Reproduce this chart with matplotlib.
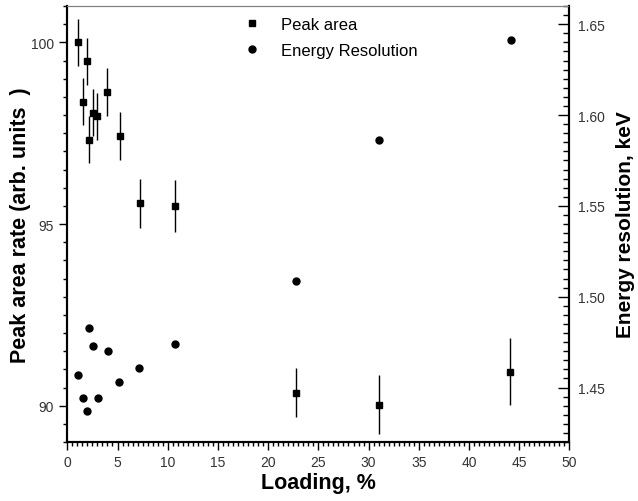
import numpy as np
import matplotlib.pyplot as plt
from matplotlib.ticker import MultipleLocator

plt.rcParams['font.family'] = ['Liberation Sans', 'DejaVu Sans']

# Peak area data (left axis)
load_pa = [1.1, 2.0, 1.6, 2.2, 2.6, 3.0, 4.0, 5.2, 7.2, 10.7, 22.8, 31.0, 44.1]
peak_area = [100.0, 99.48, 98.37, 97.32, 98.06, 97.96, 98.64, 97.42, 95.57, 95.5, 90.36, 90.03, 90.93]
peak_err = [0.65, 0.65, 0.65, 0.64, 0.65, 0.65, 0.66, 0.66, 0.68, 0.71, 0.68, 0.81, 0.92]

# Energy resolution data (right axis)
load_er = [1.07, 1.6, 2.0, 2.19, 2.59, 3.02, 4.02, 5.15, 7.17, 10.73, 22.81, 31.08, 44.23]
energy_res = [1.457, 1.444, 1.437, 1.4827, 1.4729, 1.444, 1.470, 1.4529, 1.461, 1.4738, 1.5088, 1.5864, 1.6415]

fig = plt.figure(figsize=(6.38, 5.02), dpi=100)
ax = fig.add_axes([0.1055, 0.1175, 0.787, 0.8685])
ax2 = ax.twinx()

h1 = ax.errorbar(load_pa, peak_area, yerr=peak_err, fmt='s', color='black',
                 ms=4.3, elinewidth=1, capsize=0, label='Peak area')
h2, = ax2.plot(load_er, energy_res, 'o', color='black', ms=5, label='Energy Resolution')

ax.set_xlim(0, 50)
ax.set_ylim(89, 101)
ax2.set_ylim(1.42, 1.66)

ax.xaxis.set_major_locator(MultipleLocator(5))
ax.xaxis.set_minor_locator(MultipleLocator(0.5))
ax.yaxis.set_major_locator(MultipleLocator(5))
ax.yaxis.set_minor_locator(MultipleLocator(0.5))
ax2.yaxis.set_major_locator(MultipleLocator(0.05))
ax2.yaxis.set_minor_locator(MultipleLocator(0.005))
ax2.yaxis.set_major_formatter(plt.FormatStrFormatter('%.2f'))

ax.tick_params(which='major', direction='out', length=6, width=1, labelsize=10, labelcolor='#333333')
ax.tick_params(which='minor', direction='out', length=3, width=1)
ax2.tick_params(which='major', direction='in', length=8, width=1, labelsize=10, pad=6, labelcolor='#333333')
ax2.tick_params(which='minor', direction='in', length=4, width=1)

for a in (ax, ax2):
    a.spines['top'].set_linestyle((0, (1, 1)))
    a.spines['top'].set_color('gray')
    for s in ('left', 'bottom', 'right'):
        a.spines[s].set_linewidth(1.5)

ax.set_xlabel('Loading, %', fontsize=15.5, fontweight='bold', labelpad=2)
ax.set_ylabel('Peak area rate (arb. units  )', fontsize=15.5, fontweight='bold', labelpad=0)
ax2.set_ylabel('Energy resolution, keV', fontsize=15, fontweight='bold', labelpad=8)

fig.legend([h1[0], h2], ['Peak area', 'Energy Resolution'], loc='upper left',
           bbox_to_anchor=(0.352, 0.995), frameon=False, fontsize=12,
           handlelength=1.5, handletextpad=1.0, labelspacing=0.7, numpoints=1)

fig.savefig('out.png', dpi=100)
